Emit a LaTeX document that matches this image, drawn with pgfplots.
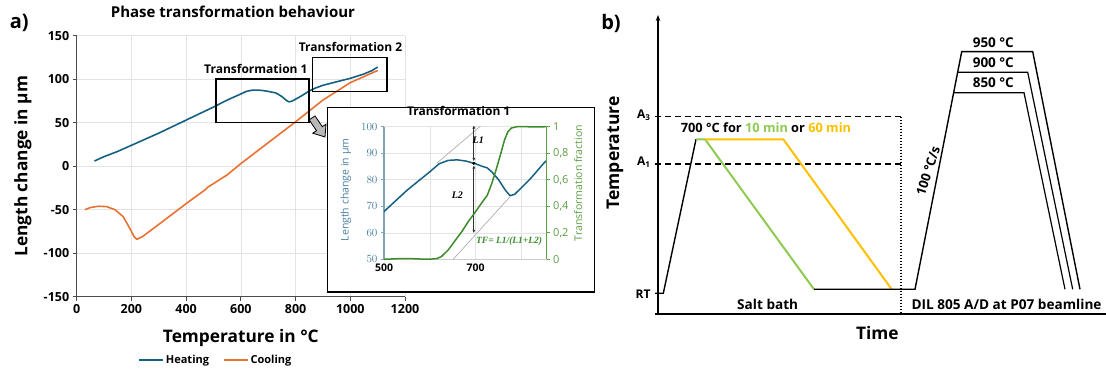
\documentclass[border=0pt]{standalone}
\usepackage{pgfplots}
\pgfplotsset{compat=1.18}
\usepackage{fontspec}
\setmainfont{Open Sans}
\newfontfamily\serifit{Liberation Serif}
\usetikzlibrary{arrows.meta}
\definecolor{heat}{HTML}{156082}
\definecolor{cool}{HTML}{E97132}
\definecolor{tfgreen}{HTML}{3B8C2A}
\definecolor{inblue}{HTML}{4A7FA0}
\definecolor{inaxis}{HTML}{7FA3BA}
\definecolor{ingreen}{HTML}{5E9E45}
\definecolor{sgreen}{HTML}{8FCB52}
\definecolor{sorange}{HTML}{FFC000}
\newcommand{\fs}[1]{\fontsize{#1}{#1}\selectfont}

\pgfplotstableread{
T L
65 6
100 11
150 17
200 24
250 31
300 38
350 45.5
400 53
450 60.5
500 68
550 76
600 83
620 86
640 87.3
660 87.5
680 87
700 86
715 85
725 84.5
735 83
750 80
765 76
775 74
785 74.5
800 77
820 80.5
850 86.5
870 89.5
900 93
950 97
1000 101
1050 106
1080 110
1100 114
}\heating

\pgfplotstableread{
T L
30 -50
50 -47.5
80 -46
110 -46.5
140 -50
170 -58
195 -72
210 -81
220 -84
240 -81
270 -74
350 -55
400 -43
470 -27
480 -24
550 -10
600 3
700 27
800 51
900 76
1000 96
1050 103
1100 110
}\cooling

\pgfplotstableread{
T F
500 0
520 0.003
540 0.006
560 0.005
580 0.002
600 0.001
615 0.005
625 0.02
640 0.07
655 0.14
670 0.21
685 0.29
700 0.36
712 0.42
725 0.48
735 0.57
745 0.68
755 0.80
763 0.90
770 0.96
778 0.99
790 1.0
810 1.0
830 0.998
855 1.0
}\tfdata

\begin{document}
\begin{tikzpicture}[x=1pt,y=1pt]
\path[use as bounding box] (0pt,0pt) rectangle (1106pt,369pt);

% ---------------- main chart a)
\begin{axis}[at={(76.7pt,72.3pt)}, anchor=south west, scale only axis,
  width=328.3pt, height=261pt,
  xmin=0, xmax=1200, ymin=-150, ymax=150,
  xtick={0,200,400,600,800,1000,1200},
  xticklabels={0,200,400,600,800,1000,1200},
  ytick={-150,-100,-50,0,50,100,150},
  yticklabels={-150,-100,-50,0,50,100,150},
  axis x line*=bottom, axis y line*=left,
  axis line style={black!70, line width=0.8pt},
  tick align=outside, major tick length=4pt,
  tick style={black!70, line width=0.8pt},
  grid=major, grid style={gray!22, line width=0.6pt},
  ticklabel style={font=\bfseries\fs{12.5}},
  xlabel={Temperature in °C},
  xlabel style={font=\bfseries\fs{17.3}, at={(axis description cs:0.5,-0.158)}, anchor=center},
  ylabel={Length change in µm},
  ylabel style={font=\bfseries\fs{17.3}, at={(axis description cs:-0.1636,0.5)}, anchor=center},
  title={Phase transformation behaviour},
  title style={font=\bfseries\fs{15}, at={(axis description cs:0.476,1.0667)}, anchor=center},
  legend style={at={(axis description cs:0.424,-0.2425)}, anchor=center, draw=none,
    font=\bfseries\fs{11}, legend columns=2,
    /tikz/every even column/.append style={column sep=12pt}},
  legend image code/.code={\draw[#1, line width=1.5pt] (0pt,0pt) -- (24pt,0pt);},
  clip=false]
\addplot[heat, line width=1.6pt] table[x=T,y=L] {\heating};
\addlegendentry{Heating}
\addplot[cool, line width=1.6pt] table[x=T,y=L] {\cooling};
\addlegendentry{Cooling}
\draw[black, line width=1.5pt] (axis cs:510,50) rectangle (axis cs:850,100);
\draw[black, line width=1.5pt] (axis cs:862,86) rectangle (axis cs:1135,125);
\node[font=\bfseries\fs{12}] at (axis cs:655,111.4) {Transformation 1};
\node[font=\bfseries\fs{12}] at (axis cs:1001,137.4) {Transformation 2};
\end{axis}

\node[font=\bfseries\fs{20}] at (19.3pt,346pt) {a)};

% block arrow
\draw[fill=gray!55, line width=0.8pt] (315.0pt,253.1pt) -- (322.3pt,242.3pt) -- (326.0pt,244.8pt) -- (325pt,232pt) -- (312.8pt,235.8pt) -- (316.5pt,238.3pt) -- (309.2pt,249.1pt) -- cycle;

% inset frame
\draw[fill=white, line width=1.2pt] (327.5pt,77pt) rectangle (594.3pt,261.3pt);

% ---------------- inset, left axis
\begin{axis}[at={(384pt,109.7pt)}, anchor=south west, scale only axis,
  width=162.7pt, height=132.6pt,
  xmin=500, xmax=855, ymin=50, ymax=100,
  xtick={500,600,700,800}, xticklabels={500,,700,},
  ytick={50,60,70,80,90,100},
  axis x line*=bottom, axis y line*=left,
  x axis line style={gray!40, line width=0.6pt},
  y axis line style={inaxis, line width=1.3pt},
  xtick style={draw=none},
  ytick style={inaxis, line width=0.8pt},
  tick align=outside, major tick length=3pt,
  grid=major, grid style={gray!22, line width=0.5pt},
  xticklabel style={font=\bfseries\fs{10.5}, yshift=2pt},
  yticklabel style={font=\fs{11}, text=inblue},
  ylabel={Length change in µm},
  ylabel style={font=\fs{10.5}, text=inblue, at={(axis description cs:-0.2336,0.523)}, anchor=center},
  title={Transformation 1},
  title style={font=\bfseries\fs{12}, at={(axis description cs:0.459,1.071)}, anchor=center}]
\addplot[gray!70, line width=0.6pt] coordinates {(615,86.2) (713,100.6)};
\addplot[gray!70, line width=0.6pt] coordinates {(651,50) (775,73.6)};
\addplot[heat, line width=1.5pt] table[x=T,y=L] {\heating};
\draw[black!80, line width=0.7pt, {Latex[length=3.5pt,width=3pt]}-{Latex[length=3.5pt,width=3pt]}] (axis cs:696,100.6) -- (axis cs:696,86.9);
\draw[black!80, line width=0.7pt, {Latex[length=3.5pt,width=3pt]}-{Latex[length=3.5pt,width=3pt]}] (axis cs:696,85.5) -- (axis cs:696,59.8);
\addplot[only marks, mark=*, mark size=1.3pt, black] coordinates {(696,86.2)};
\node[font=\serifit\itshape\bfseries\fs{10}] at (axis cs:705.7,95) {L1};
\node[font=\serifit\itshape\bfseries\fs{10}] at (axis cs:660,74) {L2};
\end{axis}

% ---------------- inset, right axis
\begin{axis}[at={(384pt,109.7pt)}, anchor=south west, scale only axis,
  width=162.7pt, height=132.6pt,
  xmin=500, xmax=855, ymin=0, ymax=1,
  axis x line=none, axis y line*=right,
  y axis line style={ingreen, line width=1.3pt},
  ytick={0,0.2,0.4,0.6,0.8,1},
  yticklabels={0,{0,2},{0,4},{0,6},{0,8},1},
  ytick style={ingreen, line width=0.8pt},
  tick align=outside, major tick length=3pt,
  yticklabel style={font=\fs{11}, text=ingreen},
  ylabel={Transformation fraction},
  ylabel style={font=\fs{10.5}, text=ingreen, at={(axis description cs:1.194,0.575)}, anchor=center, rotate=0},
  clip=false]
\addplot[tfgreen, line width=1.5pt] table[x=T,y=F] {\tfdata};
\node[font=\serifit\itshape\bfseries\fs{9.5}, text=tfgreen] at (axis cs:773,0.14) {TF= L1/(L1+L2)};
\end{axis}

% ---------------- schematic b)
\begin{axis}[at={(658pt,55pt)}, anchor=south west, scale only axis,
  width=448pt, height=299pt,
  xmin=0, xmax=448, ymin=0, ymax=299,
  hide axis, clip=false]
\draw[black, line width=1.2pt, -{Stealth[length=6pt,width=4.5pt]}] (axis cs:0,0) -- (axis cs:0,299);
\draw[black, line width=1.2pt] (axis cs:-3,0) -- (axis cs:448,0);
\addplot[black, line width=1.2pt, dash pattern=on 6pt off 4pt] coordinates {(-3,197.3) (242.7,197.3)};
\addplot[black, line width=1.2pt, dash pattern=on 6pt off 4pt] coordinates {(-3,150) (242.7,150)};
\addplot[black, line width=2pt, dash pattern=on 1.5pt off 1.5pt] coordinates {(242.7,197.3) (242.7,2)};
\addplot[black, line width=1.4pt] coordinates {(-3,20.7) (5.3,20.7) (38,174.7)};
\addplot[sgreen, line width=2pt] coordinates {(38,174.7) (47,174.7) (156,24.7)};
\addplot[sorange, line width=2pt] coordinates {(47,174.7) (125.3,174.7) (233.7,24.7)};
\addplot[black, line width=1.4pt] coordinates {(156,24.7) (257,24.7) (303.7,262.3) (374.7,262.3) (422,24.7)};
\addplot[black, line width=1.2pt] coordinates {(295.6,221.3) (366,221.3) (407,24.7)};
\addplot[black, line width=1.2pt] coordinates {(299.7,241.7) (369.7,241.7) (414.7,24.7)};
\node[font=\bfseries\fs{20}] at (axis cs:-47,291) {b)};
\node[font=\bfseries\fs{17.5}, rotate=90] at (axis cs:-43,161) {Temperature};
\node[font=\bfseries\fs{17.3}] at (axis cs:219.3,-19) {Time};
\node[font=\bfseries\fs{12}, anchor=east] at (axis cs:-4,199) {A\textsubscript{3}};
\node[font=\bfseries\fs{12}, anchor=east] at (axis cs:-4,152) {A\textsubscript{1}};
\node[font=\bfseries\fs{12}, anchor=east] at (axis cs:-4,20) {RT};
\node[font=\bfseries\fs{12.8}] at (axis cs:108,186.7) {700 °C for \textcolor{sgreen}{10 min} or \textcolor{sorange}{60 min}};
\node[font=\bfseries\fs{13.6}] at (axis cs:109.7,10) {Salt bath};
\node[font=\bfseries\fs{13.6}] at (axis cs:348.5,10) {DIL 805 A/D at P07 beamline};
\node[font=\bfseries\fs{13.5}] at (axis cs:335.3,271.7) {950 °C};
\node[font=\bfseries\fs{13.5}] at (axis cs:335.3,251.7) {900 °C};
\node[font=\bfseries\fs{13.5}] at (axis cs:335.3,231.7) {850 °C};
\node[font=\bfseries\fs{13}, rotate=72] at (axis cs:270,143) {100 °C/s};
\end{axis}
\end{tikzpicture}
\end{document}
